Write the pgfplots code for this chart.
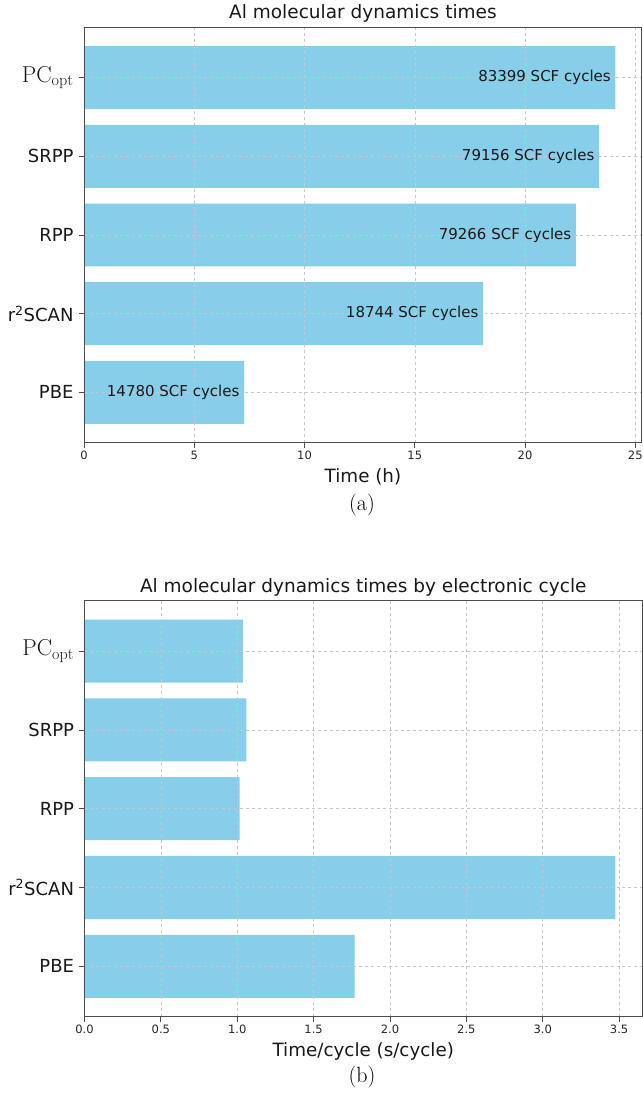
\documentclass[border=0pt]{standalone}
\usepackage{fontspec}
\setmainfont{DejaVu Sans}
\newfontfamily\lm{Latin Modern Roman}
\usepackage{pgfplots}
\pgfplotsset{compat=1.18}
\definecolor{skyblue}{HTML}{87CEEB}
\pgfplotsset{myax/.style={
  scale only axis,
  axis on top,
  ymin=-0.64, ymax=4.64, xmin=0,
  ytick={0,1,2,3,4},
  yticklabels={PBE, r\textsuperscript{2}SCAN, RPP, SRPP, {\lm\fontsize{23bp}{26bp}\selectfont PC\textsubscript{opt}}},
  grid=major,
  grid style={dashed, gray!45, line width=0.5bp},
  axis line style={black!70, line width=1bp},
  tick style={black!70, line width=0.8bp},
  tick align=outside, major tick length=5bp, tick pos=left,
  /pgf/number format/assume math mode=true,
  yticklabel style={font=\fontsize{18bp}{21bp}\selectfont, text=black!90, xshift=-2bp},
  xticklabel style={font=\fontsize{11.5bp}{14bp}\selectfont, text=black!85},
  title style={font=\fontsize{18.5bp}{22bp}\selectfont, text=black!90, at={(0.5,1)}, anchor=base, yshift=2.5bp},
  xlabel style={font=\fontsize{18.3bp}{22bp}\selectfont, text=black!90, at={(axis description cs:0.5,0)}, anchor=base, yshift=-40bp},
}}
\begin{document}
\begin{tikzpicture}
\begin{axis}[myax, at={(84bp,-442.7bp)}, anchor=south west,
  width=557.9bp, height=415.4bp, xmax=25.3,
  xtick={0,5,10,15,20,25},
  title={Al molecular dynamics times}, xlabel={Time (h)}]
\addplot[xbar, bar width=0.8, fill=skyblue, draw=none] coordinates {
 (7.26,0) (18.10,1) (22.31,2) (23.36,3) (24.10,4)};
\addplot[draw=none, mark=none, nodes near coords, point meta=explicit symbolic,
  nodes near coords style={anchor=east, xshift=-4.5bp, inner sep=0pt, font=\fontsize{15bp}{18bp}\selectfont, text=black!90}]
 coordinates {(7.26,0) [14780 SCF cycles] (18.10,1) [18744 SCF cycles] (22.31,2) [79266 SCF cycles] (23.36,3) [79156 SCF cycles] (24.10,4) [83399 SCF cycles]};
\end{axis}
\begin{axis}[myax, at={(84.5bp,-1016.7bp)}, anchor=south west,
  width=557.5bp, height=416bp, xmax=3.65,
  xtick={0,0.5,1,1.5,2,2.5,3,3.5},
  xticklabel style={/pgf/number format/.cd, fixed, fixed zerofill, precision=1},
  title={Al molecular dynamics times by electronic cycle}, xlabel={Time/cycle (s/cycle)}]
\addplot[xbar, bar width=0.8, fill=skyblue, draw=none] coordinates {
 (1.768,0) (3.476,1) (1.015,2) (1.060,3) (1.037,4)};
\end{axis}
\node[font=\lm\fontsize{22bp}{26bp}\selectfont] at (362bp,-505bp) {(a)};
\node[font=\lm\fontsize{22bp}{26bp}\selectfont] at (362bp,-1077bp) {(b)};
\pgfresetboundingbox
\useasboundingbox (0,0) rectangle (643bp,-1098bp);
\end{tikzpicture}
\end{document}
